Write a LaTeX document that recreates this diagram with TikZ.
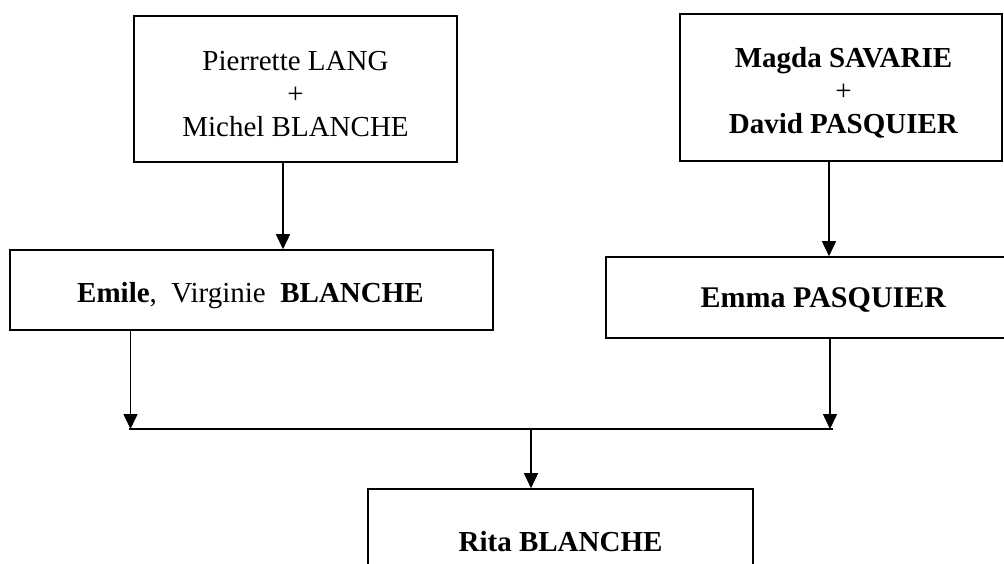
\documentclass[tikz,border=0pt]{standalone}
\usepackage{fontspec}
\setmainfont{Liberation Serif}
\usetikzlibrary{arrows.meta,calc}
\begin{document}
\begin{tikzpicture}[x=1pt,y=-1pt,
  frame/.style={draw,line width=1.6pt,rectangle,inner sep=0pt},
  txt/.style={anchor=base,inner sep=0pt,align=center,font=\fontsize{29pt}{33pt}\selectfont},
  arr/.style={line width=1.6pt,-{Triangle[length=15pt,width=14pt]}},
  link/.style={line width=1.6pt}]
\useasboundingbox (0,0) rectangle (1004,563);
\clip (0,0) rectangle (1004,563);
% boxes
\node[frame,minimum width=323pt,minimum height=146pt] (pl) at (295.5,89) {};
\node[frame,minimum width=322pt,minimum height=147pt] (md) at (841,87.5) {};
\node[frame,minimum width=483pt,minimum height=80pt] (ev) at (251.5,290) {};
\node[frame,minimum width=414pt,minimum height=81pt] (ep) at (813,297.5) {};
\node[frame,minimum width=385pt,minimum height=111pt] (rb) at (560.5,544.5) {};
% texts (base anchor = baseline of last line)
\node[txt] (plt) at (295.5,136) {Pierrette LANG\\+\\Michel BLANCHE};
\node[txt] (mdt) at (843.5,133) {\textbf{Magda SAVARIE}\\+\\\textbf{David PASQUIER}};
\node[txt] (evt) at (250.5,302) {\textbf{Emile},\ \ Virginie\ \ \textbf{BLANCHE}};
\node[txt,font=\fontsize{30pt}{34pt}\selectfont] (ept) at (823.5,307) {\textbf{Emma PASQUIER}};
\node[txt] (rbt) at (560.5,551.5) {\textbf{Rita BLANCHE}};
% connectors
\coordinate (jl) at (129,429);
\coordinate (jr) at (833,429);
\coordinate (jc) at (531,429);
\draw[arr] ([xshift=-12.5pt]pl.south) -- ([xshift=-12.5pt]pl.south |- ev.north);
\draw[arr] ([xshift=-12pt]md.south) -- ([xshift=-12pt]md.south |- ep.north);
\draw[link] (jl) -- (jr);
\draw[arr] ([xshift=1.5pt]jl |- ev.south) -- ([xshift=1.5pt]jl);
\draw[arr] ([xshift=-3pt]jr |- ep.south) -- ([xshift=-3pt]jr);
\draw[arr] (jc) -- (jc |- rb.north);
\end{tikzpicture}
\end{document}
